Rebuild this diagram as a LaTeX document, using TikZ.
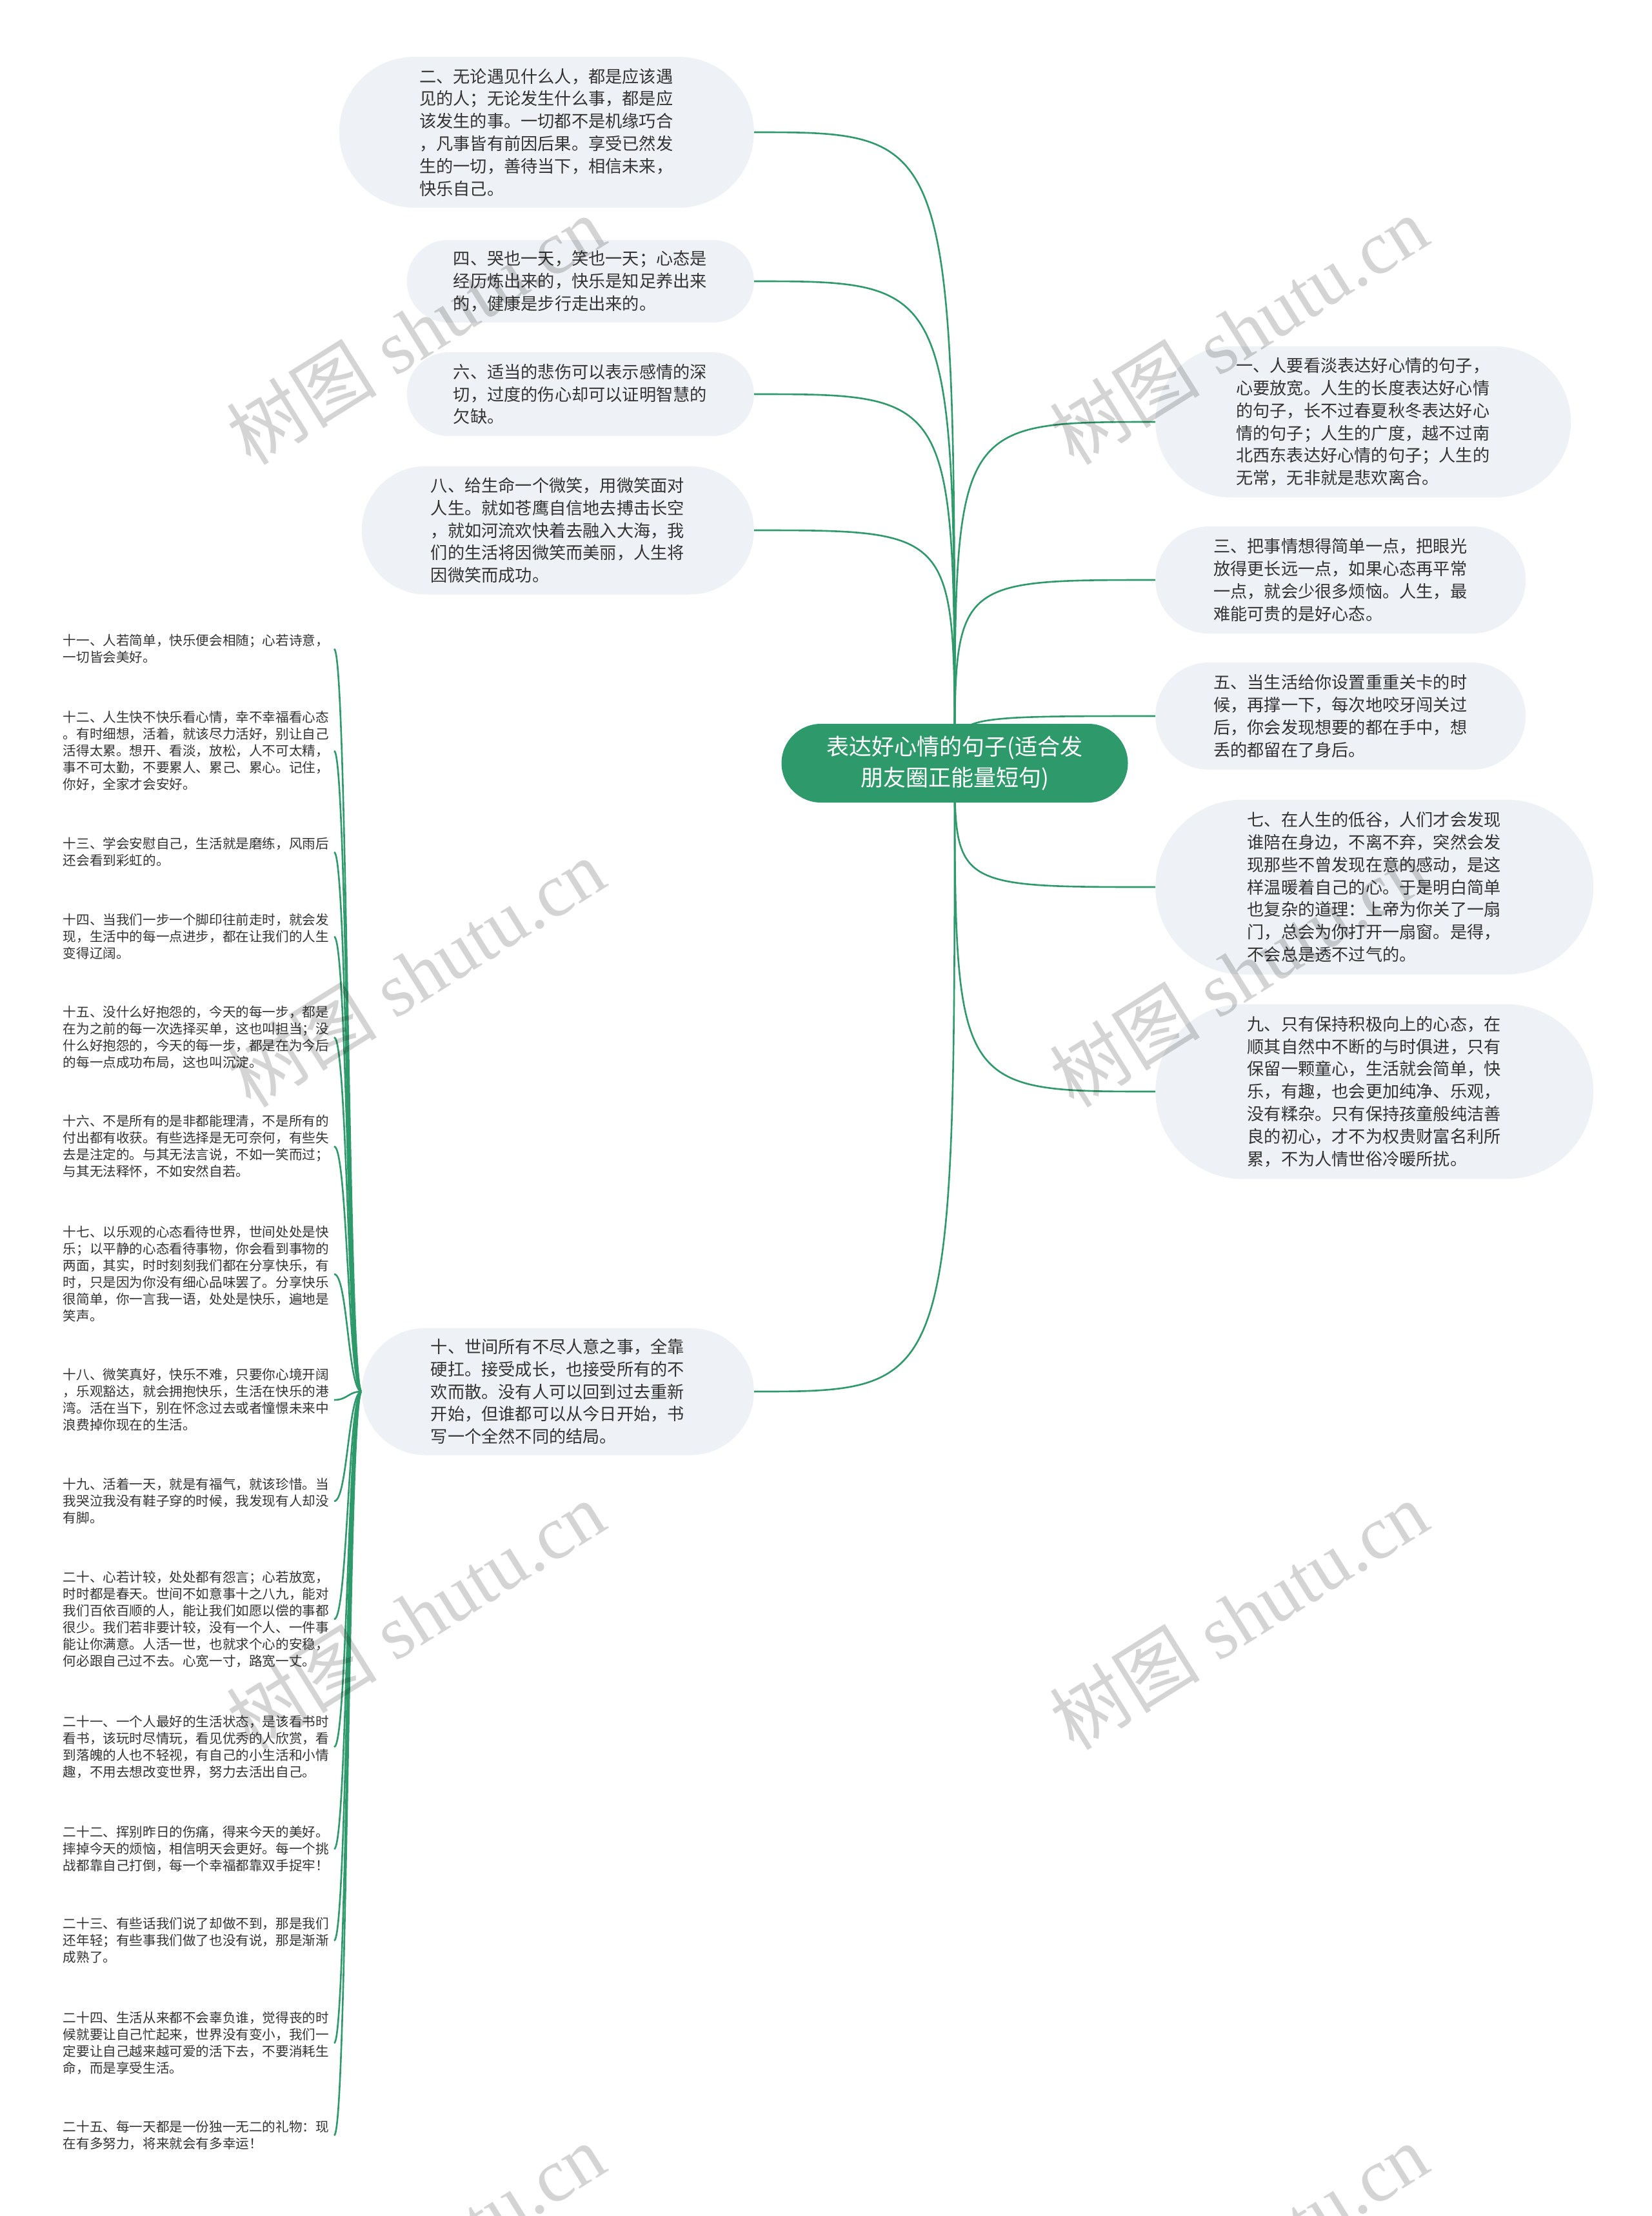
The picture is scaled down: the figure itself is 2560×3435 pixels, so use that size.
\documentclass[tikz,border=0pt]{standalone}
\usepackage{fontspec}
\setmainfont{Liberation Serif}
\newfontfamily\cjk{Noto Sans CJK SC}
\usetikzlibrary{backgrounds}
\definecolor{brand}{RGB}{46,153,106}
\definecolor{pillfill}{RGB}{238,241,245}
\definecolor{txt}{RGB}{51,51,51}
\tikzset{
  pill/.style={fill=pillfill, text=txt, font=\cjk\fontsize{26.2}{34.8}\selectfont, align=left, text width=394pt, inner sep=0pt},
  leaf/.style={text=txt, font=\cjk\fontsize{20.6}{26}\selectfont, align=left, text width=412pt, inner xsep=8pt, inner ysep=2pt, anchor=east},
  conn/.style={draw=brand, line width=2.6pt},
  wm/.style={text=black, opacity=0.17, rotate=32, font=\fontsize{117}{117}\selectfont}
}
\begin{document}
\begin{tikzpicture}[x=1pt,y=-1pt]
\useasboundingbox (0,0) rectangle (2560,3435);

% centre
\node[fill=brand, text=white, font=\cjk\fontsize{35}{48}\selectfont, align=center, inner sep=0pt,
      minimum width=537pt, minimum height=122pt, rounded corners=61pt] (c) at (1480,1183)
  {表达好心情的句子(适合发\\朋友圈正能量短句)};

% left branch nodes
\node[pill, anchor=east, minimum width=643pt, minimum height=234pt, rounded corners=117pt] (n2) at (1169,205)
  {二、无论遇见什么人，都是应该遇\\见的人；无论发生什么事，都是应\\该发生的事。一切都不是机缘巧合\\，凡事皆有前因后果。享受已然发\\生的一切，善待当下，相信未来，\\快乐自己。};
\node[pill, anchor=east, minimum width=538pt, minimum height=128pt, rounded corners=64pt] (n4) at (1169,436)
  {四、哭也一天，笑也一天；心态是\\经历炼出来的，快乐是知足养出来\\的，健康是步行走出来的。};
\node[pill, anchor=east, minimum width=538pt, minimum height=130pt, rounded corners=65pt] (n6) at (1169,611)
  {六、适当的悲伤可以表示感情的深\\切，过度的伤心却可以证明智慧的\\欠缺。};
\node[pill, anchor=east, minimum width=608pt, minimum height=199pt, rounded corners=99.5pt] (n8) at (1169,822)
  {八、给生命一个微笑，用微笑面对\\人生。就如苍鹰自信地去搏击长空\\，就如河流欢快着去融入大海，我\\们的生活将因微笑而美丽，人生将\\因微笑而成功。};
\node[pill, anchor=east, minimum width=608pt, minimum height=197pt, rounded corners=98.5pt] (n10) at (1169,2157)
  {十、世间所有不尽人意之事，全靠\\硬扛。接受成长，也接受所有的不\\欢而散。没有人可以回到过去重新\\开始，但谁都可以从今日开始，书\\写一个全然不同的结局。};

% right branch nodes
\node[pill, anchor=west, minimum width=644pt, minimum height=234pt, rounded corners=117pt] (n1) at (1791,654)
  {一、人要看淡表达好心情的句子，\\心要放宽。人生的长度表达好心情\\的句子，长不过春夏秋冬表达好心\\情的句子；人生的广度，越不过南\\北西东表达好心情的句子；人生的\\无常，无非就是悲欢离合。};
\node[pill, anchor=west, minimum width=574pt, minimum height=166pt, rounded corners=83pt] (n3) at (1791,899)
  {三、把事情想得简单一点，把眼光\\放得更长远一点，如果心态再平常\\一点，就会少很多烦恼。人生，最\\难能可贵的是好心态。};
\node[pill, anchor=west, minimum width=574pt, minimum height=166pt, rounded corners=83pt] (n5) at (1791,1110)
  {五、当生活给你设置重重关卡的时\\候，再撑一下，每次地咬牙闯关过\\后，你会发现想要的都在手中，想\\丢的都留在了身后。};
\node[pill, anchor=west, minimum width=679pt, minimum height=271pt, rounded corners=135.5pt] (n7) at (1791,1375)
  {七、在人生的低谷，人们才会发现\\谁陪在身边，不离不弃，突然会发\\现那些不曾发现在意的感动，是这\\样温暖着自己的心。于是明白简单\\也复杂的道理：上帝为你关了一扇\\门，总会为你打开一扇窗。是得，\\不会总是透不过气的。};
\node[pill, anchor=west, minimum width=679pt, minimum height=271pt, rounded corners=135.5pt] (n9) at (1791,1692)
  {九、只有保持积极向上的心态，在\\顺其自然中不断的与时俱进，只有\\保留一颗童心，生活就会简单，快\\乐，有趣，也会更加纯净、乐观，\\没有糅杂。只有保持孩童般纯洁善\\良的初心，才不为权贵财富名利所\\累，不为人情世俗冷暖所扰。};

% leaves of node ten
\node[leaf] (l11) at (518,1006) {十一、人若简单，快乐便会相随；心若诗意，\\一切皆会美好。};
\node[leaf] (l12) at (518,1164) {十二、人生快不快乐看心情，幸不幸福看心态\\。有时细想，活着，就该尽力活好，别让自己\\活得太累。想开、看淡，放松，人不可太精，\\事不可太勤，不要累人、累己、累心。记住，\\你好，全家才会安好。};
\node[leaf] (l13) at (518,1321) {十三、学会安慰自己，生活就是磨练，风雨后\\还会看到彩虹的。};
\node[leaf] (l14) at (518,1452) {十四、当我们一步一个脚印往前走时，就会发\\现，生活中的每一点进步，都在让我们的人生\\变得辽阔。};
\node[leaf] (l15) at (518,1608) {十五、没什么好抱怨的，今天的每一步，都是\\在为之前的每一次选择买单，这也叫担当；没\\什么好抱怨的，今天的每一步，都是在为今后\\的每一点成功布局，这也叫沉淀。};
\node[leaf] (l16) at (518,1777) {十六、不是所有的是非都能理清，不是所有的\\付出都有收获。有些选择是无可奈何，有些失\\去是注定的。与其无法言说，不如一笑而过；\\与其无法释怀，不如安然自若。};
\node[leaf] (l17) at (518,1975) {十七、以乐观的心态看待世界，世间处处是快\\乐；以平静的心态看待事物，你会看到事物的\\两面，其实，时时刻刻我们都在分享快乐，有\\时，只是因为你没有细心品味罢了。分享快乐\\很简单，你一言我一语，处处是快乐，遍地是\\笑声。};
\node[leaf] (l18) at (518,2170) {十八、微笑真好，快乐不难，只要你心境开阔\\，乐观豁达，就会拥抱快乐，生活在快乐的港\\湾。活在当下，别在怀念过去或者憧憬未来中\\浪费掉你现在的生活。};
\node[leaf] (l19) at (518,2327) {十九、活着一天，就是有福气，就该珍惜。当\\我哭泣我没有鞋子穿的时候，我发现有人却没\\有脚。};
\node[leaf] (l20) at (518,2510) {二十、心若计较，处处都有怨言；心若放宽，\\时时都是春天。世间不如意事十之八九，能对\\我们百依百顺的人，能让我们如愿以偿的事都\\很少。我们若非要计较，没有一个人、一件事\\能让你满意。人活一世，也就求个心的安稳，\\何必跟自己过不去。心宽一寸，路宽一丈。};
\node[leaf] (l21) at (518,2708) {二十一、一个人最好的生活状态，是该看书时\\看书，该玩时尽情玩，看见优秀的人欣赏，看\\到落魄的人也不轻视，有自己的小生活和小情\\趣，不用去想改变世界，努力去活出自己。};
\node[leaf] (l22) at (518,2866) {二十二、挥别昨日的伤痛，得来今天的美好。\\摔掉今天的烦恼，相信明天会更好。每一个挑\\战都靠自己打倒，每一个幸福都靠双手捉牢！};
\node[leaf] (l23) at (518,3008) {二十三、有些话我们说了却做不到，那是我们\\还年轻；有些事我们做了也没有说，那是渐渐\\成熟了。};
\node[leaf] (l24) at (518,3167) {二十四、生活从来都不会辜负谁，觉得丧的时\\候就要让自己忙起来，世界没有变小，我们一\\定要让自己越来越可爱的活下去，不要消耗生\\命，而是享受生活。};
\node[leaf] (l25) at (518,3310) {二十五、每一天都是一份独一无二的礼物：现\\在有多努力，将来就会有多幸运！};

\begin{scope}[on background layer]
  \fill[white] (0,0) rectangle (2560,3435);
  \foreach \n in {n2,n4,n6,n8,n10}
    \draw[conn] (c.center) .. controls (c.center |- \n.east) .. (\n.east);
  \foreach \n in {n1,n3,n5,n7,n9}
    \draw[conn] (c.center) .. controls (c.center |- \n.west) .. (\n.west);
  \foreach \i in {11,...,25}
    \draw[conn] (n10.west) .. controls +(-21,0) and +(21,0) .. (l\i.east);
\end{scope}

% watermarks
\foreach \y [count=\k] in {512,1508,2504,3500}{
  \node[wm] (wl\k) at (644,\y) {{\cjk 树图} shutu.cn};
  \node[wm] (wr\k) at (1920,\y) {{\cjk 树图} shutu.cn};
}
\end{tikzpicture}
\end{document}
